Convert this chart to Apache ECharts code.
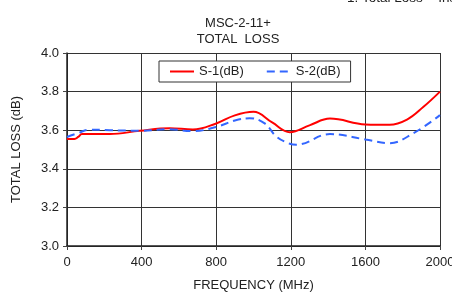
<!DOCTYPE html>
<html>
<head>
<meta charset="utf-8">
<script src="https://cdn.jsdelivr.net/npm/echarts@6/dist/echarts.min.js"></script>
<style>
  html, body { margin: 0; padding: 0; background: #fff; }
  #chart { width: 452px; height: 297px; }
</style>
</head>
<body>
<div id="chart"></div>
<script>
// frequency (MHz) / total loss (dB)
var s1Freq = [0, 40, 60, 80, 230, 390, 550, 675, 800, 900, 1000, 1100, 1195, 1300, 1410, 1600, 1730, 1823, 1910, 2000];
var s1Loss = [3.555, 3.555, 3.565, 3.58, 3.58, 3.597, 3.61, 3.604, 3.635, 3.677, 3.695, 3.64, 3.59, 3.625, 3.66, 3.63, 3.628, 3.655, 3.72, 3.80];
var s2Freq = [0, 60, 120, 230, 390, 550, 675, 800, 900, 980, 1060, 1125, 1195, 1230, 1410, 1600, 1730, 1855, 2000];
var s2Loss = [3.565, 3.585, 3.603, 3.60, 3.597, 3.605, 3.595, 3.617, 3.65, 3.662, 3.635, 3.565, 3.53, 3.525, 3.58, 3.552, 3.533, 3.583, 3.678];
var xTicks = [0, 400, 800, 1200, 1600, 2000];
var yTicks = [3.0, 3.2, 3.4, 3.6, 3.8, 4.0];

function pairs(xs, ys) {
  var out = [];
  for (var i = 0; i < xs.length; i++) out.push([xs[i], ys[i]]);
  return out;
}

var chart = echarts.init(document.getElementById('chart'), null, { renderer: 'canvas' });
var font = 'Liberation Sans, Arial, sans-serif';

chart.setOption({
  animation: false,
  textStyle: { fontFamily: font },
  title: {
    text: 'MSC-2-11+\nTOTAL  LOSS',
    left: 233, top: 10, textAlign: 'center',
    textStyle: { fontSize: 13, fontWeight: 'normal', color: '#222', lineHeight: 16, fontFamily: font }
  },
  graphic: [{
    type: 'text', left: 347, top: -9,
    style: { text: '1. Total Loss = Insertion Loss + 3dB', fontSize: 13.5, fill: '#222', fontFamily: font }
  }],
  legend: {
    left: 159, top: 61,
    itemWidth: 24, itemHeight: 10, itemGap: 22,
    padding: [4, 10, 4, 10],
    borderColor: '#333', borderWidth: 1, borderRadius: 0,
    backgroundColor: '#fff',
    itemStyle: { opacity: 0 },
    textStyle: { fontSize: 13, color: '#222', fontFamily: font },
    data: ['S-1(dB)', 'S-2(dB)']
  },
  grid: { left: 67, right: 12, top: 53, bottom: 51, containLabel: false, outerBoundsMode: 'none' },
  xAxis: {
    type: 'value', min: 0, max: 2000, interval: 400,
    name: 'FREQUENCY (MHz)', nameLocation: 'middle', nameGap: 33,
    nameTextStyle: { fontSize: 13, color: '#222', fontFamily: font },
    axisLine: { show: true, lineStyle: { color: '#222', width: 1.5 } },
    axisTick: { show: true, length: 4, lineStyle: { color: '#444' } },
    axisLabel: { fontSize: 13, color: '#222', margin: 10, fontFamily: font,
      formatter: function (v) { return String(v); } },
    splitLine: { show: true, lineStyle: { color: '#333', width: 1 } }
  },
  yAxis: {
    type: 'value', min: 3.0, max: 4.0, interval: 0.2,
    name: 'TOTAL LOSS (dB)', nameLocation: 'middle', nameGap: 44,
    nameTextStyle: { fontSize: 13, color: '#222', fontFamily: font },
    axisLine: { show: true, lineStyle: { color: '#222', width: 1.5 } },
    axisTick: { show: true, length: 4, lineStyle: { color: '#444' } },
    axisLabel: { fontSize: 13, color: '#222', margin: 8, fontFamily: font,
      formatter: function (v) { return v.toFixed(1); } },
    splitLine: { show: true, lineStyle: { color: '#333', width: 1 } }
  },
  series: [{
    name: 'S-1(dB)', type: 'line', smooth: 0.4, symbol: 'none',
    data: pairs(s1Freq, s1Loss),
    lineStyle: { color: '#ff0000', width: 2 },
    itemStyle: { color: '#ff0000' }
  }, {
    name: 'S-2(dB)', type: 'line', smooth: 0.4, symbol: 'none',
    data: pairs(s2Freq, s2Loss),
    lineStyle: { color: '#3366ff', width: 2, type: [8, 5] },
    itemStyle: { color: '#3366ff' }
  }]
});
</script>
</body>
</html>
